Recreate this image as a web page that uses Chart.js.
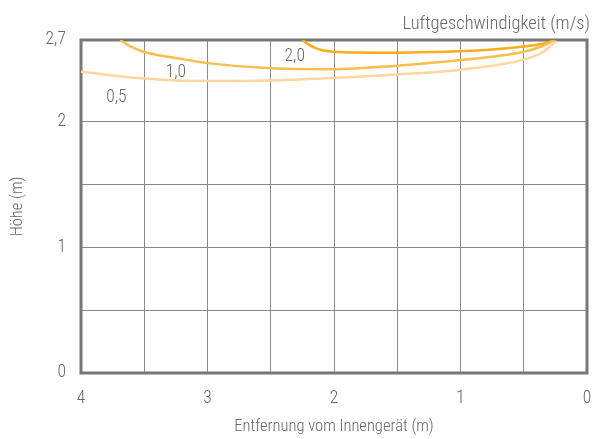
<!DOCTYPE html>
<html>
<head>
  <title>Luftgeschwindigkeit</title>
  <style>
    body { margin: 0; background: #fff; }
    #wrap { width: 594px; height: 439px; }
  </style>
</head>
<body>
  <div id="wrap"><canvas id="chart" width="594" height="439"></canvas></div>

  <script src="https://cdn.jsdelivr.net/npm/chart.js"></script>
  <script>
    // Entfernung (m) / Höhe (m) per Luftgeschwindigkeit
    const dist20 = [2.25, 2.2, 2.15, 2.09, 2.0, 1.8, 1.6, 1.2, 0.8, 0.5, 0.35, 0.25];
    const hoehe20 = [2.65, 2.613, 2.588, 2.568, 2.556, 2.55, 2.548, 2.554, 2.57, 2.598, 2.62, 2.65];

    const dist10 = [3.69, 3.64, 3.58, 3.5, 3.31, 3.15, 3.0, 2.5, 2.0, 1.5, 1.0, 0.5, 0.35, 0.27];
    const hoehe10 = [2.649, 2.617, 2.585, 2.555, 2.516, 2.49, 2.466, 2.425, 2.418, 2.446, 2.49, 2.557, 2.602, 2.642];

    const dist05 = [4.0, 3.5, 3.0, 2.5, 2.0, 1.5, 1.0, 0.5, 0.35, 0.24];
    const hoehe05 = [2.397, 2.344, 2.323, 2.328, 2.349, 2.376, 2.414, 2.494, 2.554, 2.641];

    const speedLabels = ['2,0', '1,0', '0,5'];
    const yTickLabels = { 0: '0', 1: '1', 2: '2', 2.65: '2,7' };
    const xTickLabels = { 0: '0', 1: '1', 2: '2', 3: '3', 4: '4' };

    const FONT = "'Roboto Condensed', Roboto, sans-serif";
    const WEIGHT = 300;
    const textColor = '#666';

    function toPoints(xs, ys) {
      return xs.map((x, i) => ({ x: x, y: ys[i] }));
    }

    // frame round the plot + curve labels
    const framePlugin = {
      id: 'frame',
      beforeDatasetsDraw(chart) {
        const a = chart.chartArea;
        const c = chart.ctx;
        c.save();
        c.strokeStyle = '#777';
        c.lineWidth = 3;
        c.strokeRect(a.left, a.top, a.right - a.left, a.bottom - a.top);
        c.restore();
      },
      afterDatasetsDraw(chart) {
        const c = chart.ctx;
        const xs = chart.scales.x, ys = chart.scales.y;
        const spots = [[2.31, 2.514], [3.25, 2.394], [3.72, 2.195]];
        c.save();
        c.fillStyle = textColor;
        c.font = WEIGHT + ' 17.5px ' + FONT;
        c.textAlign = 'center';
        c.textBaseline = 'middle';
        speedLabels.forEach((t, i) => {
          c.fillText(t, xs.getPixelForValue(spots[i][0]), ys.getPixelForValue(spots[i][1]));
        });
        c.font = WEIGHT + ' 18.5px ' + FONT;
        c.textAlign = 'right';
        c.textBaseline = 'alphabetic';
        c.fillText('Luftgeschwindigkeit (m/s)', 590, 29);
        c.restore();
      }
    };

    new Chart(document.getElementById('chart'), {
      type: 'scatter',
      data: {
        datasets: [
          { label: '0,5', data: toPoints(dist05, hoehe05), borderColor: '#fdd79c' },
          { label: '1,0', data: toPoints(dist10, hoehe10), borderColor: '#f8bf4f' },
          { label: '2,0', data: toPoints(dist20, hoehe20), borderColor: '#f8ad1a' }
        ]
      },
      options: {
        responsive: false,
        animation: false,
        showLine: true,
        elements: {
          point: { radius: 0 },
          line: { borderWidth: 2.5, cubicInterpolationMode: 'monotone', fill: false }
        },
        layout: { padding: { top: 40, right: 7, bottom: 0, left: 0 } },
        plugins: {
          legend: { display: false },
          tooltip: { enabled: false }
        },
        scales: {
          x: {
            type: 'linear',
            reverse: true,
            min: 0,
            max: 4,
            afterFit: (scale) => {
              scale.height = 66;
              scale.paddingLeft = 0;
              scale.paddingRight = 0;
            },
            grid: { color: '#8a8a8a', lineWidth: 1, drawTicks: false },
            border: { display: false },
            ticks: {
              stepSize: 0.5,
              padding: 15,
              color: textColor,
              font: { family: FONT, size: 17.5, weight: WEIGHT },
              callback: (v) => xTickLabels[v] !== undefined ? xTickLabels[v] : ''
            },
            title: {
              display: true,
              text: 'Entfernung vom Innengerät (m)',
              color: textColor,
              font: { family: FONT, size: 16.5, weight: WEIGHT },
              padding: { top: 4, bottom: 2 }
            }
          },
          y: {
            type: 'linear',
            min: 0,
            max: 2.65,
            afterBuildTicks: (scale) => {
              scale.ticks = [0, 0.5, 1, 1.5, 2, 2.65].map(v => ({ value: v }));
            },
            afterFit: (scale) => { scale.width = 81; },
            grid: { color: '#8a8a8a', lineWidth: 1, drawTicks: false },
            border: { display: false },
            ticks: {
              padding: 15,
              color: textColor,
              font: { family: FONT, size: 17.5, weight: WEIGHT },
              callback: (v) => yTickLabels[v] !== undefined ? yTickLabels[v] : ''
            },
            title: {
              display: true,
              text: 'Höhe (m)',
              color: textColor,
              font: { family: FONT, size: 16.5, weight: WEIGHT },
              padding: { top: 8, bottom: 0 }
            }
          }
        }
      },
      plugins: [framePlugin]
    });
  </script>
</body>
</html>
